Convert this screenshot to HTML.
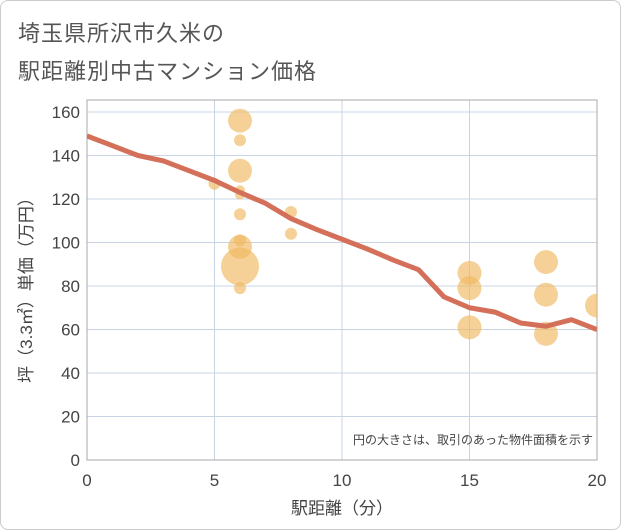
<!DOCTYPE html>
<html><head><meta charset="utf-8"><style>
body{margin:0;background:#fff;font-family:"Liberation Sans","Noto Sans CJK JP",sans-serif}
#card{position:absolute;left:0;top:0;width:619px;height:528px;border:1px solid #ccc;border-radius:8px;background:#fff}
.t{position:absolute;left:18px;font-size:22px;color:#555;letter-spacing:1px}
</style></head><body>
<div id="card"></div>
<div class="t" style="top:16px">埼玉県所沢市久米の</div>
<div class="t" style="top:54px">駅距離別中古マンション価格</div>
<svg id="c" width="621" height="530" style="position:absolute;left:0;top:0" font-family="Liberation Sans, Noto Sans CJK JP, sans-serif">
<defs><clipPath id="pc"><rect x="87" y="100" width="510" height="360"/></clipPath></defs>
</svg>
<script>
const xTicks=[0,5,10,15,20];
const yTicks=[0,20,40,60,80,100,120,140,160];
const bubbleX=[6,6,6,6,6,5,6,6,6,6,6,8,8,15,15,15,18,18,18,20];
const bubbleY=[156,147,133,124,122,127,113,101,98,89,79,114,104,86,79,61,91,76,58,71];
const bubbleR=[12,6,12,5,5,6,6,6,12,19,6,6,6,12,12,12,12,12,12,12];
const lineX=[0,1,2,3,4,5,6,7,8,9,10,11,12,13,14,15,16,17,18,19,20];
const lineY=[149,144.5,140,137.5,133,128.5,123,118,111,106,101.5,97,92,87.5,75,70,68,63,61.5,64.5,60];
const svg=document.getElementById('c');const NS='http://www.w3.org/2000/svg';
const L=87,R=597,T=100,B=460;
const sx=v=>L+(v/20)*(R-L), sy=v=>B-(v/160)*(460-112);
function mk(t,a,p){const e=document.createElementNS(NS,t);for(const k in a)e.setAttribute(k,a[k]);(p||svg).appendChild(e);return e;}
xTicks.forEach(v=>{const g=mk('line',{x1:sx(v),x2:sx(v),y1:T,y2:B,stroke:'#c8d4e3','stroke-width':1});

const t=mk('text',{x:sx(v),y:486,'text-anchor':'middle','font-size':17,fill:'#444'});t.textContent=v;
});
yTicks.forEach(v=>{const g=mk('line',{x1:L,x2:R,y1:sy(v),y2:sy(v),stroke:'#c8d4e3','stroke-width':1});

const t=mk('text',{x:80,y:sy(v)+6,'text-anchor':'end','font-size':17,fill:'#444'});t.textContent=v;
});
const fr=mk('rect',{x:L,y:T,width:R-L,height:B-T,fill:'none',stroke:'#aaa'});

const gp=mk('g',{'clip-path':'url(#pc)'});

bubbleX.forEach((x,i)=>{const c=mk('circle',{cx:sx(x),cy:sy(bubbleY[i]),r:bubbleR[i],fill:'#f0b860','fill-opacity':0.65},gp);
});
const p=mk('polyline',{points:lineX.map((x,i)=>sx(x)+','+sy(lineY[i])).join(' '),fill:'none',stroke:'#d4705a','stroke-width':5,'stroke-linejoin':'round'},gp);

const xt=mk('text',{x:342,y:514,'text-anchor':'middle','font-size':17,fill:'#444'});xt.textContent='駅距離（分）';

const yt=mk('text',{x:0,y:0,'text-anchor':'middle','font-size':17,fill:'#444',transform:'translate(32,286) rotate(-90)'});yt.textContent='坪（3.3㎡）単価（万円）';

const n=mk('text',{x:593,y:444,'text-anchor':'end','font-size':12,fill:'#444'});n.textContent='円の大きさは、取引のあった物件面積を示す';

</script>
</body></html>
